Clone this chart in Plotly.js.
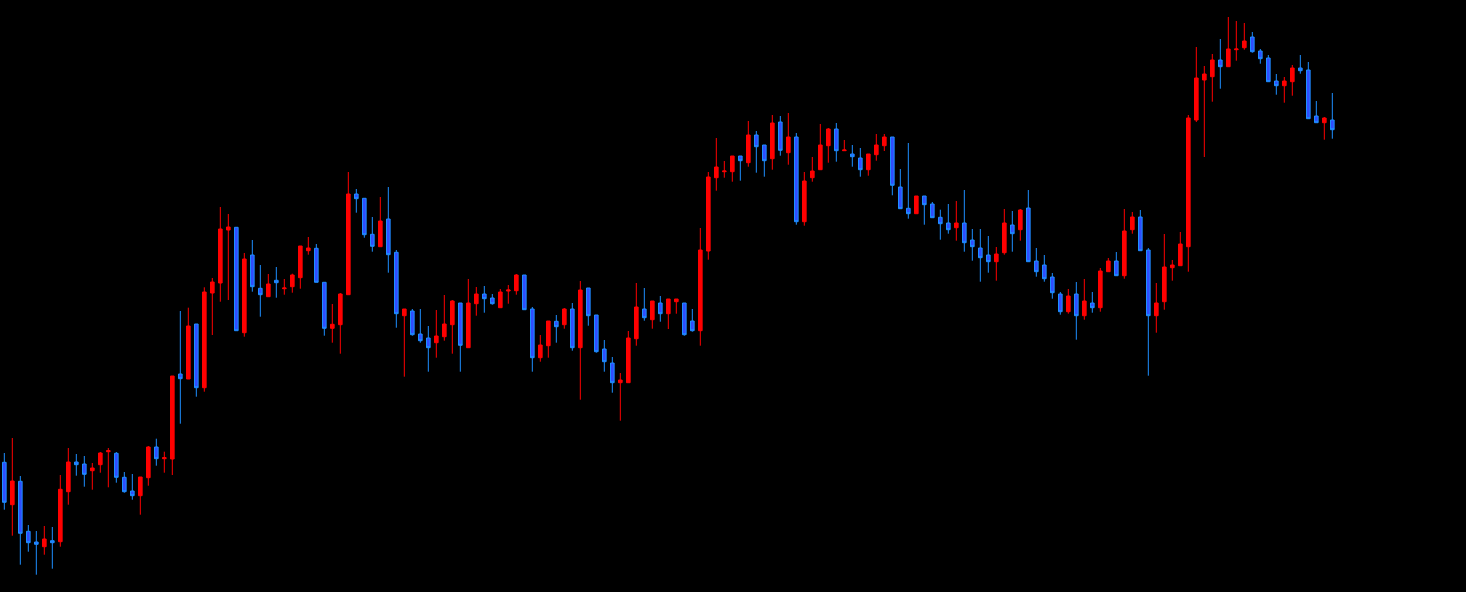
<!DOCTYPE html>
<html>
<head>
<meta charset="utf-8">
<script src="https://cdn.plot.ly/plotly-3.0.1.min.js"></script>
<style>html,body{margin:0;padding:0;background:#000;}#chart{width:1466px;height:592px;}</style>
</head>
<body>
<div id="chart"></div>
<script>
const openPrices = [137.7,95.3,118.7,68.7,58,53.3,59.3,58.3,108.3,138,136,129.3,135.3,148.3,146.7,122.7,109,104.3,122.3,153,
141.3,141,226,221,276,212.3,307,317,370,372.7,267.3,345,311.7,303.3,319.7,311.3,313.3,322.3,349.3,351.7,
317.7,271.7,275.3,305.3,406,401.7,365.7,353.3,381,347.7,284.3,289,266,262,257.3,263.3,275.3,297,252.3,296.3,
306,302,292.3,309,309.3,325,291,242.3,254.3,278.7,275.3,291,252.3,312,285,251,237,217.3,217.3,261.3,
291,280.3,297,286.3,298.3,297,279,269.3,349,422.3,428.3,428.3,444,437.3,465,455,441.3,478,447.3,463,
378.3,422.3,430.3,454.3,471,449.3,446,442,430.3,445.3,454.3,463,413,391.7,386.3,404,396,382.7,377,372.3,
377,360,352,345,338.3,347.3,375,370.3,392,339,335,323,306,288.3,306,284.3,297,292.3,328.3,339,
324.3,370.3,383,350,284.3,298.3,332.3,334.3,353.3,480,520,523.3,540,533.3,550.3,552.3,563,549,542,519,
514.3,518.3,532,530,484,477.3,480];
const highPrices = [147,162,124,75,69,74,73,125,152,146,144,137,148,152,148,128,126,123,154,161.3,
148.3,224,289,292.3,276,312.7,322,393,386,372.7,347,360,335,326,333,321,326.3,354,363,356,
317.7,296,307,428,411,401.7,383,403,413,350,291,291,291,274,290,305,300,297,321,313,
314,306,311,315,326,325,293,265,279,285,292,297,319,312,285,260,243,227,269,317,
312,299,304,301,301,297,291,372,428,462,439,444,444,479,469,455,485,484,487,467,
428,443,476,472,477,460,455,452,446,466,466,463,431,457,404,404,398,390.3,396,399,
410,371,371,364,353,391,389,391,410,352,345,327,308,311,318,321,308,332,342,348,
391,388,390,352,317,366,340,368,485,553,534,546,561,583,579,577,568,551,545,526,
523,535,545,538,499,483,507];
const lowPrices = [90.3,64.3,35.3,48.3,25.3,45.3,31.3,53.3,95.3,124.3,113.3,110.3,127.3,112.7,117.3,107.3,100.3,85.3,114.3,134.3,
127.3,125,176.3,221,203.3,208.3,265,298.3,300,269.3,263.3,308.3,283.3,303.3,302.3,305.3,307.3,311.3,345.3,317.7,
264.3,257.3,246.3,305.3,387.3,362.3,348.3,353.3,327.3,272.3,223.3,264.3,257.3,228.3,242.3,259.3,246.3,228.3,252.3,284.3,
287.3,295.3,292.3,296.3,305.3,290.3,228.3,238.3,242.3,257.3,271.3,249.3,200.3,274.3,247.3,228.3,207.3,179.3,217.3,254.3,
279.3,271.3,278.3,271,286.3,264.3,268.3,254.3,340.3,409.3,422.3,418.3,419.3,433.3,427.3,423.3,430.3,444.3,435.3,375.3,
374.3,418.3,430.3,437.3,438.3,449.3,433.3,423.3,424.3,439.3,449,404.7,391.3,381.3,386.3,375.3,382.3,360.3,366.3,359.3,
348.3,339.3,318.3,327.3,319.3,345.3,348.3,359.3,338.3,323.3,318.3,301.3,285.3,286.3,260.3,280.3,287.3,288.3,328.3,324.3,
321.3,366.3,349.3,224.3,267.3,290.3,319.3,334.3,328.3,478,443,498.3,511.3,533.3,539.3,550.3,547.3,536.3,518.3,505.3,
497.3,504.3,526.3,481.3,477.3,460.3,461.3];
const closePrices = [97.7,119,66.7,57.3,55.7,61,57.3,110.7,138,135.3,125.7,132,147,149.3,122.7,108.3,104.3,123,153,141.3,
142.3,224,221.3,274,212.3,308,318,371,373,269.3,341,313.3,305.3,316,317.3,312,325,354,352,317.7,
271.7,275.7,306,406,401.3,365.3,353.7,379,345.3,286.3,291,265.3,259.3,252.3,264,276,299,254.7,297,306,
301.3,296.3,308,310,325,290.3,242.3,255,279,273.3,291,252.3,310,284.3,248.3,238.3,217.3,220,262,293,
282.3,299,286.3,301,301,265.3,269.3,350,423,433,429,444,439.3,465,453.3,439.3,477,449.7,463,378.3,
419,429,455,471,449.3,450,443.3,430.3,446,455,463,414.7,391.3,386.3,404,395.3,382.3,376.3,370.3,377,
357.3,353.3,342.3,338.3,346,377,366.3,390,338.3,328.3,321.3,307.3,288.3,304,284.3,299,292.3,329,339,324.3,
369,383,349.3,284.3,297,333,335,356,482,522,526,540,533.3,551,551,559,548.3,541.3,518.3,514.3,
519,532,529.3,481.3,477.3,482,470.3];
const barIndex = openPrices.map((_, i) => i);

const trace = {
  type: 'candlestick',
  x: barIndex,
  open: openPrices,
  high: highPrices,
  low: lowPrices,
  close: closePrices,
  increasing: {line: {color: '#ff0000', width: 1}, fillcolor: '#ff0000'},
  decreasing: {line: {color: '#1e8fff', width: 1}, fillcolor: '#2f4dff'},
  whiskerwidth: 0,
  hoverinfo: 'none'
};

const layout = {
  width: 1466, height: 592,
  margin: {l: 0, r: 0, t: 0, b: 0, pad: 0},
  paper_bgcolor: '#000000',
  plot_bgcolor: '#000000',
  showlegend: false,
  boxgap: 0.35,
  xaxis: {range: [-0.54, 182.71], visible: false, showgrid: false, zeroline: false, rangeslider: {visible: false}, fixedrange: true},
  yaxis: {range: [8, 600], visible: false, showgrid: false, zeroline: false, fixedrange: true}
};

Plotly.newPlot('chart', [trace], layout, {displayModeBar: false, staticPlot: true});
</script>
</body>
</html>
